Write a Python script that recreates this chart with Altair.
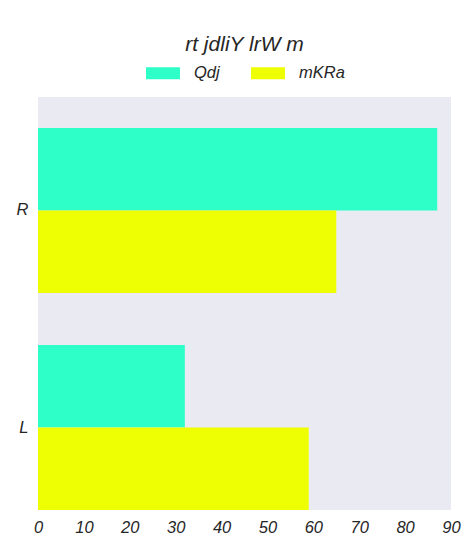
import altair as alt
import pandas as pd

categories = ["R", "L"]
series = ["Qdj", "mKRa"]
qdj_values = [87, 32]
mkra_values = [65, 59]
colors = ["#2effc9", "#eeff03"]
x_ticks = [0, 10, 20, 30, 40, 50, 60, 70, 80, 90]

rows = []
for c, q, m in zip(categories, qdj_values, mkra_values):
    rows.append({"cat": c, "series": "Qdj", "value": q})
    rows.append({"cat": c, "series": "mKRa", "value": m})
df = pd.DataFrame(rows)

font = "Liberation Sans"

chart = alt.Chart(df).mark_bar().encode(
    y=alt.Y("cat:N", sort=categories, title=None,
            scale=alt.Scale(paddingInner=0.24, paddingOuter=0.0713, align=1),
            axis=alt.Axis(labelFont=font, labelFontStyle="italic", labelFontSize=16.5,
                          labelColor="#262626", labelPadding=10, ticks=False,
                          domain=False, grid=False, labelAngle=0)),
    yOffset=alt.YOffset("series:N", sort=series, scale=alt.Scale(paddingInner=0, paddingOuter=0)),
    x=alt.X("value:Q", title=None,
            scale=alt.Scale(domain=[0, 90], nice=False),
            axis=alt.Axis(values=x_ticks, labelFont=font, labelFontStyle="italic",
                          labelFontSize=16.5, labelColor="#262626", labelPadding=9,
                          labelFlush=False, labelOverlap=False,
                          ticks=False, domain=False, grid=False)),
    color=alt.Color("series:N", sort=series,
                    scale=alt.Scale(domain=series, range=colors),
                    legend=alt.Legend(title=None, orient="none", direction="horizontal",
                                      legendX=108, legendY=-41,
                                      symbolType="M-1,-0.353L1,-0.353L1,0.353L-1,0.353Z",
                                      symbolSize=1156, symbolStrokeWidth=0,
                                      symbolOpacity=1,
                                      labelFont=font, labelFontStyle="italic",
                                      labelFontSize=16.5, labelColor="#262626",
                                      labelOffset=14, columnPadding=31)),
).properties(
    width=413,
    height=413,
    background="white",
    title=alt.TitleParams("rt jdliY lrW m", font=font, fontStyle="italic",
                          fontSize=21, fontWeight="normal", color="#262626",
                          anchor="middle", offset=1),
    autosize=alt.AutoSizeParams(type="none"),
    padding={"left": 38, "top": 97, "right": 23, "bottom": 43},
).configure_view(
    fill="#eaeaf2", strokeWidth=0
)

chart.save("out.html", embed_options={"renderer": "svg", "actions": False})
